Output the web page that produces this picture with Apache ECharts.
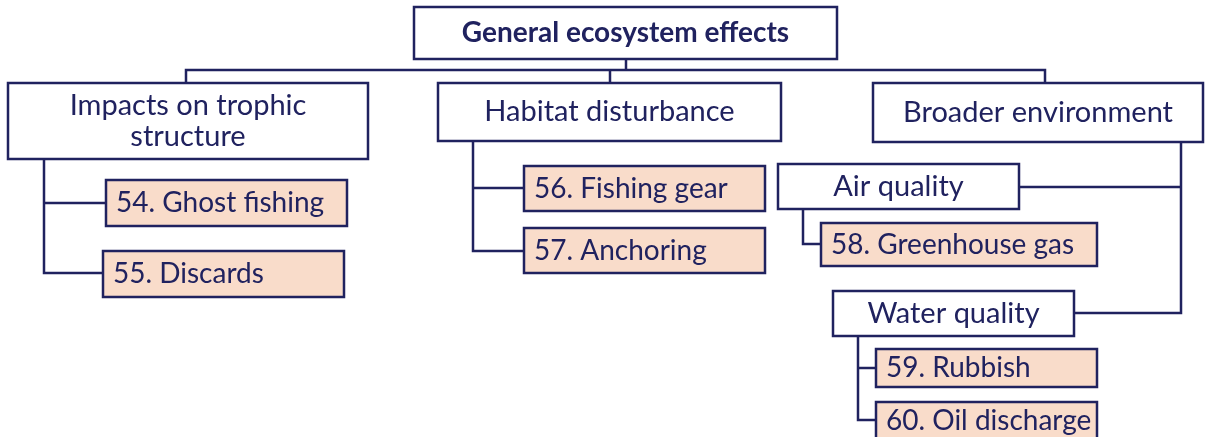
<!DOCTYPE html>
<html><head><meta charset="utf-8">
<script src="https://cdn.jsdelivr.net/npm/echarts@6/dist/echarts.min.js"></script>
<style>html,body{margin:0;padding:0;background:#fff}#c{width:1205px;height:437px}</style>
</head><body><div id="c"></div>
<script>
// Hierarchy (content)
const nodeNames = [
  'General ecosystem effects',
  'Impacts on trophic\nstructure',
  'Habitat disturbance',
  'Broader environment',
  '54. Ghost fishing',
  '55. Discards',
  '56. Fishing gear',
  '57. Anchoring',
  'Air quality',
  'Water quality',
  '58. Greenhouse gas',
  '59. Rubbish',
  '60. Oil discharge'
];
const nodeParents = [-1, 0, 0, 0, 1, 1, 2, 2, 3, 3, 8, 9, 9];
const nodeIsIndicator = [false, false, false, false, true, true, true, true, false, false, true, true, true];

// Layout (page coordinates: x0, y0, x1, y1)
const layoutBoxes = [
  [414, 7, 837, 59],
  [8, 83, 368, 159],
  [438, 83, 781, 141],
  [873, 83, 1203, 142],
  [106, 180, 347, 226],
  [103, 251, 344, 297],
  [524, 166, 765, 211],
  [524, 228, 765, 273],
  [778, 164, 1019, 209],
  [833, 291, 1074, 336],
  [821, 223, 1097, 266],
  [876, 349, 1097, 387],
  [876, 402, 1097, 442]
];
const layoutConnectors = [
  [[626, 59], [626, 70]],
  [[186, 83], [186, 70], [1045, 70], [1045, 83]],
  [[610, 70], [610, 83]],
  [[44, 159], [44, 273], [103, 273]],
  [[44, 203], [106, 203]],
  [[473, 141], [473, 251], [524, 251]],
  [[473, 188], [524, 188]],
  [[1181, 142], [1181, 313], [1074, 313]],
  [[1181, 187], [1019, 187]],
  [[803, 209], [803, 244], [821, 244]],
  [[858, 336], [858, 420], [876, 420]],
  [[858, 368], [876, 368]]
];

const NAVY = '#20225f';
const PEACH = '#f9dcca';

const chart = echarts.init(document.getElementById('c'), null, {renderer: 'canvas'});
chart.setOption({
  animation: false,
  grid: {left: 0, right: 0, top: 0, bottom: 0},
  xAxis: {type: 'value', min: 0, max: 1205, show: false},
  yAxis: {type: 'value', min: 0, max: 437, inverse: true, show: false},
  series: [
    {
      type: 'custom',
      clip: false,
      data: layoutConnectors.map((c, i) => [i]),
      renderItem: function (params, api) {
        const pts = layoutConnectors[api.value(0)].map(p => api.coord(p));
        return {
          type: 'polyline',
          shape: {points: pts},
          style: {stroke: NAVY, lineWidth: 2.5, fill: null}
        };
      }
    },
    {
      type: 'custom',
      clip: false,
      data: nodeNames.map((n, i) => [i]),
      renderItem: function (params, api) {
        const i = api.value(0);
        const b = layoutBoxes[i];
        const p0 = api.coord([b[0], b[1]]);
        const p1 = api.coord([b[2], b[3]]);
        const leaf = nodeIsIndicator[i];
        const isRoot = nodeParents[i] === -1;
        return {
          type: 'group',
          children: [
            {
              type: 'rect',
              shape: {x: p0[0], y: p0[1], width: p1[0] - p0[0], height: p1[1] - p0[1]},
              style: {fill: leaf ? PEACH : '#ffffff', stroke: NAVY, lineWidth: 2.5}
            },
            {
              type: 'text',
              x: leaf ? p0[0] + 10 : (p0[0] + p1[0]) / 2,
              y: (i === 12) ? p0[1] + 19 : (p0[1] + p1[1]) / 2,
              style: {
                text: nodeNames[i],
                fill: NAVY,
                fontFamily: 'Lato',
                fontSize: isRoot ? 28 : (leaf ? 28 : 29),
                fontWeight: isRoot ? 'bold' : 'normal',
                lineHeight: 31,
                align: leaf ? 'left' : 'center',
                verticalAlign: 'middle'
              }
            }
          ]
        };
      }
    }
  ]
});
</script>
</body></html>
